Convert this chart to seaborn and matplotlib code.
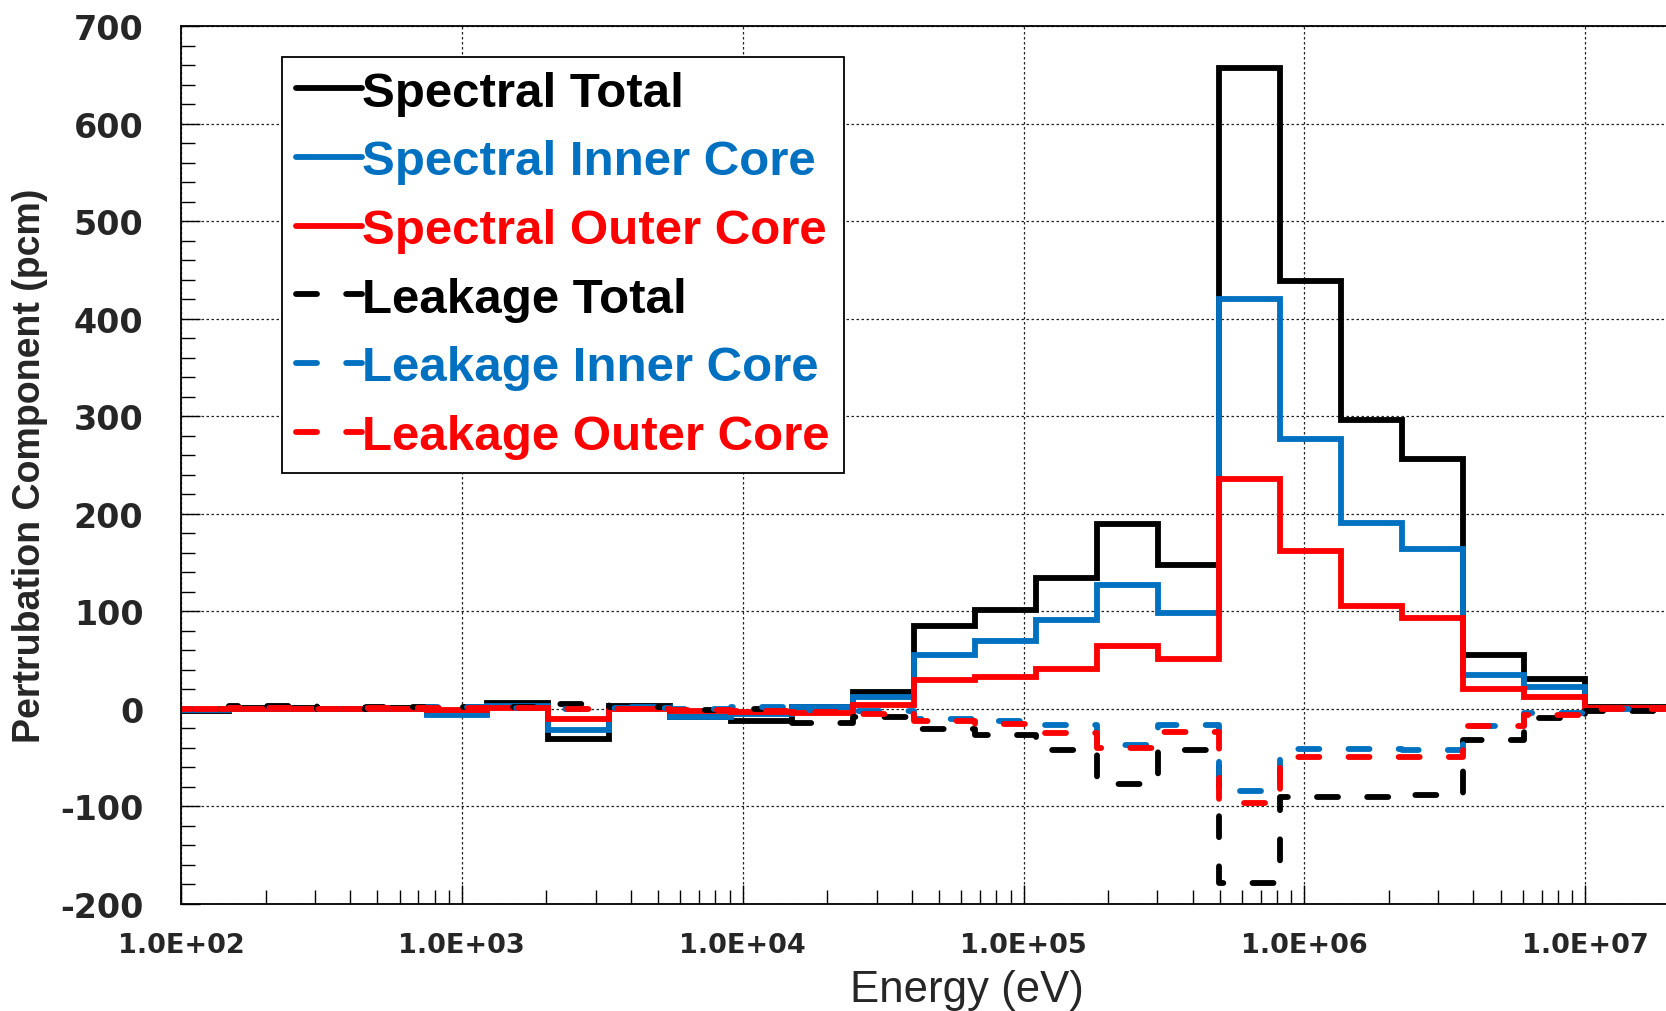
import numpy as np
import pandas as pd
import matplotlib
matplotlib.use("Agg")
import matplotlib.pyplot as plt
import matplotlib.ticker as mticker
import seaborn as sns

# group boundaries (eV), 33-group structure, upper part
edges = [9.166e1, 1.486e2, 3.043e2, 4.540e2, 7.485e2, 1.234e3, 2.035e3, 3.355e3,
         5.531e3, 9.119e3, 1.503e4, 2.479e4, 4.087e4, 6.738e4, 1.111e5, 1.832e5,
         3.020e5, 4.979e5, 8.209e5, 1.353e6, 2.231e6, 3.679e6, 6.065e6, 1.000e7, 1.964e7]

# per-group values (pcm)
spectral_total = [-2, 1, 0, 1, -4, 6, -31, 3, -8, -12, 2, 17, 85, 101, 134, 190, 148, 657, 439, 296, 256, 55, 31, 2]
spectral_inner = [-1, 0, 0, 0, -6, 3, -22, 2, -8, -5, 2, 12, 55, 70, 91, 127, 98, 420, 277, 191, 164, 35, 22, 1]
spectral_outer = [0, 0, 0, 0, -1, 1, -10, 0, -2, -3, -4, 4, 30, 33, 41, 64, 51, 236, 162, 105, 93, 20, 12, 1]
leakage_total = [0, 3, 0, 2, 2, 2, 5, 2, -1, 0, -14, -8, -21, -27, -42, -77, -42, -178, -90, -90, -88, -32, -9, -2]
leakage_inner = [0, 1, 0, 1, 2, 1, 0, 1, 0, 2, -1, -2, -10, -12, -17, -37, -17, -84, -41, -41, -42, -18, -4, 0]
leakage_outer = [0, 1, 0, 1, 1, 1, 0, 0, -1, -2, -3, -5, -12, -15, -25, -40, -24, -96, -49, -49, -49, -18, -6, 0]

dash = (0, (3.6, 5.0))
series = [
    ("Spectral Total", spectral_total, "black", "-"),
    ("Spectral Inner Core", spectral_inner, "#0070C0", "-"),
    ("Spectral Outer Core", spectral_outer, "#FF0000", "-"),
    ("Leakage Total", leakage_total, "black", dash),
    ("Leakage Inner Core", leakage_inner, "#0070C0", dash),
    ("Leakage Outer Core", leakage_outer, "#FF0000", dash),
]

sns.set_style("ticks")
plt.rcParams['font.family'] = ['Liberation Sans', 'DejaVu Sans']
plt.rcParams['axes.unicode_minus'] = False

fig = plt.figure(figsize=(16.66, 10.12), dpi=100)
ax = fig.add_axes([181/1666, 107/1012, 1485/1666, 878/1012])

for name, vals, col, ls in series:
    y = list(vals) + [vals[-1]]
    sns.lineplot(x=edges, y=y, ax=ax, color=col, lw=4.2, linestyle=ls,
                 drawstyle="steps-post", label=name,
                 solid_capstyle="round", dash_capstyle="round", solid_joinstyle="miter")

ax.set_xscale("log")
ax.set_xlim(1e2, 1.94e7)
ax.set_ylim(-200, 700)
ax.yaxis.set_major_locator(mticker.MultipleLocator(100))
ax.yaxis.set_minor_locator(mticker.MultipleLocator(20))
ax.xaxis.set_major_locator(mticker.LogLocator(base=10, numticks=20))
ax.xaxis.set_minor_locator(mticker.LogLocator(base=10, subs=np.arange(2, 10), numticks=20))
ax.xaxis.set_major_formatter(mticker.FuncFormatter(lambda v, p: f"{v:.1E}"))
ax.xaxis.set_minor_formatter(mticker.NullFormatter())

ax.grid(True, which="major", color="#222222", linestyle=(0, (2, 2)), linewidth=0.9)
ax.tick_params(axis="both", which="both", direction="in", color="black")
ax.tick_params(axis="both", which="major", length=14, width=1)
ax.tick_params(axis="both", which="minor", length=10, width=1)
ax.tick_params(axis="y", which="major", pad=27)
ax.tick_params(axis="x", which="major", pad=20)
for lab in ax.get_yticklabels():
    lab.set_fontfamily("DejaVu Sans")
    lab.set_fontweight("bold")
    lab.set_fontsize(24)
for lab in ax.get_xticklabels():
    lab.set_fontfamily("DejaVu Sans")
    lab.set_fontweight("bold")
    lab.set_fontsize(19.5)

for s in ["left", "bottom", "top"]:
    ax.spines[s].set_color("black")
    ax.spines[s].set_linewidth(1.3)
ax.spines["right"].set_visible(False)

ax.set_ylabel("Pertrubation Component (pcm)", fontsize=27, fontweight="bold")
ax.yaxis.set_label_coords(-0.0896, 0.5)
ax.set_xlabel("Energy (eV)", fontsize=31.5)
ax.xaxis.set_label_coords(0.529, -0.074)

leg = ax.legend(loc="upper left", bbox_to_anchor=(0.068, 0.965), borderaxespad=0,
                frameon=True, fancybox=False, edgecolor="black", framealpha=1,
                prop={"family": "Liberation Sans", "weight": "bold", "size": 35.5},
                handlelength=1.35, handletextpad=0.0, labelspacing=0.48,
                borderpad=0.28)
leg.get_frame().set_linewidth(1.3)
for txt, (_, _, col, _) in zip(leg.get_texts(), series):
    txt.set_color(col)

fig.savefig("out.png", dpi=100)
